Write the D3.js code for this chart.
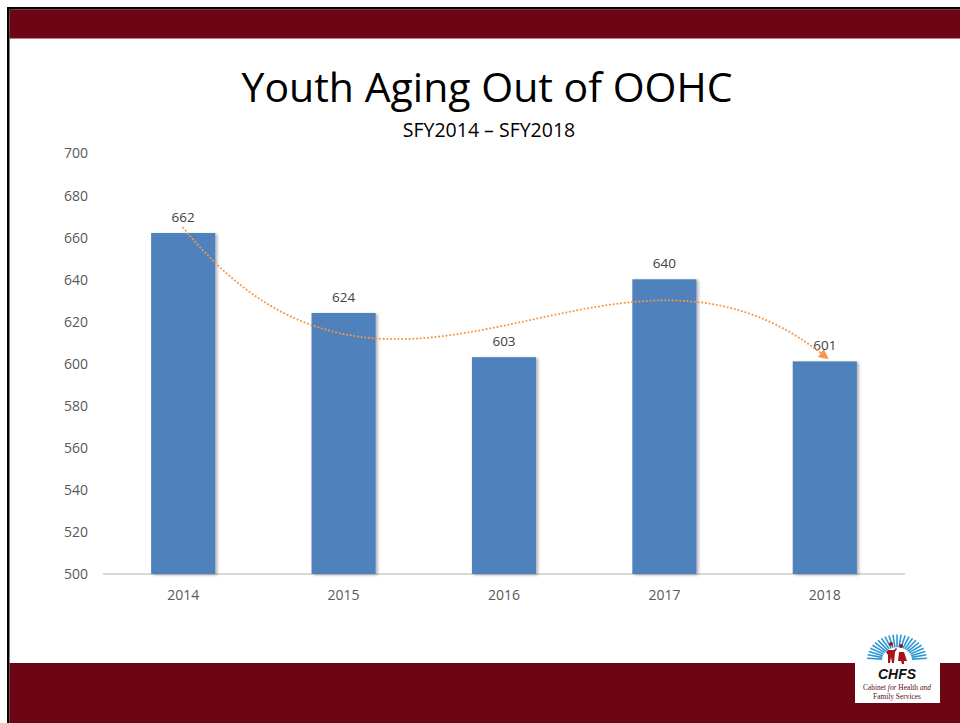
<!DOCTYPE html>
<html>
<head>
<meta charset="utf-8">
<script src="https://cdn.jsdelivr.net/npm/d3@7"></script>
<style>
  html, body { margin: 0; padding: 0; background: #fff; }
  svg { display: block; }
</style>
</head>
<body>
<svg id="slide" width="960" height="723"></svg>
<script>
// Youth aging out of out-of-home care, state fiscal years 2014-2018
const years = ["2014", "2015", "2016", "2017", "2018"];
const counts = [662, 624, 603, 640, 601];
const yTicks = [500, 520, 540, 560, 580, 600, 620, 640, 660, 680, 700];

const title = "Youth Aging Out of OOHC";
const subtitle = "SFY2014 \u2013 SFY2018";

const svg = d3.select("#slide");
const maroon = "#6c0612";

// slide frame: black rule on top and left, maroon header and footer bands
svg.append("rect").attr("x", 7).attr("y", 7).attr("width", 953).attr("height", 2.5).attr("fill", "#000");
svg.append("rect").attr("x", 7).attr("y", 7).attr("width", 2.5).attr("height", 716).attr("fill", "#000");
svg.append("rect").attr("x", 9.5).attr("y", 9.5).attr("width", 951).attr("height", 29).attr("fill", maroon);
svg.append("rect").attr("x", 9.5).attr("y", 663).attr("width", 951).attr("height", 60).attr("fill", maroon);

// titles
svg.append("text").attr("x", 487).attr("y", 102).attr("text-anchor", "middle")
  .attr("font-family", "'Open Sans', sans-serif").attr("font-size", 41).attr("fill", "#000")
  .text(title);
svg.append("text").attr("x", 489).attr("y", 137).attr("text-anchor", "middle")
  .attr("font-family", "'Open Sans', sans-serif").attr("font-size", 19.5).attr("fill", "#000")
  .text(subtitle);

// scales
const x = d3.scaleBand().domain(years).range([103, 905]).paddingInner(0.6).paddingOuter(0.3);
const y = d3.scaleLinear().domain([500, 700]).range([574, 153]);

const defs = svg.append("defs");
const shadow = defs.append("filter").attr("id", "barShadow")
  .attr("x", "-20%").attr("y", "-5%").attr("width", "150%").attr("height", "115%");
shadow.append("feDropShadow").attr("dx", 2).attr("dy", 1).attr("stdDeviation", 1.4)
  .attr("flood-color", "#000").attr("flood-opacity", 0.3);

defs.append("marker").attr("id", "trendArrow")
  .attr("viewBox", "0 0 10 10").attr("refX", 5).attr("refY", 5)
  .attr("markerWidth", 5).attr("markerHeight", 5).attr("orient", "auto")
  .attr("markerUnits", "strokeWidth")
  .append("path").attr("d", "M0,0 L10,5 L0,10 Z").attr("fill", "#f79646");

// value axis labels
const yAxis = d3.axisLeft(y).tickValues(yTicks).tickSize(0).tickPadding(0);
const yg = svg.append("g").attr("transform", "translate(88,0)").call(yAxis);
yg.select(".domain").remove();
yg.selectAll("text").attr("font-family", "'Open Sans', sans-serif").attr("font-size", 14)
  .attr("fill", "#595959").attr("dy", "0.35em");

// baseline
svg.append("line").attr("x1", 103).attr("x2", 905).attr("y1", y(500)).attr("y2", y(500))
  .attr("stroke", "#d9d9d9").attr("stroke-width", 2);

// category axis labels
const xAxis = d3.axisBottom(x).tickSize(0).tickPadding(0);
const xg = svg.append("g").attr("transform", `translate(0,${y(500) + 21})`).call(xAxis);
xg.select(".domain").remove();
xg.selectAll("text").attr("font-family", "'Open Sans', sans-serif").attr("font-size", 14)
  .attr("fill", "#595959").attr("dy", "0.35em");

// bars
svg.append("g").selectAll("rect").data(years).join("rect")
  .attr("x", d => x(d))
  .attr("width", x.bandwidth())
  .attr("y", (d, i) => y(counts[i]))
  .attr("height", (d, i) => y(500) - y(counts[i]))
  .attr("fill", "#4f81bd")
  .attr("filter", "url(#barShadow)");

// value labels
svg.append("g").selectAll("text").data(years).join("text")
  .attr("x", d => x(d) + x.bandwidth() / 2)
  .attr("y", (d, i) => y(counts[i]) - 11)
  .attr("text-anchor", "middle")
  .attr("font-family", "'Open Sans', sans-serif").attr("font-size", 13.5)
  .attr("fill", "#404040")
  .text((d, i) => counts[i]);

// third-order polynomial trend line, least-squares fit on the series
function polyFit(xs, ys, order) {
  const n = order + 1;
  const A = Array.from({length: n}, () => new Array(n + 1).fill(0));
  for (let r = 0; r < n; r++) {
    for (let c = 0; c < n; c++) A[r][c] = d3.sum(xs, v => Math.pow(v, r + c));
    A[r][n] = d3.sum(xs, (v, k) => Math.pow(v, r) * ys[k]);
  }
  for (let p = 0; p < n; p++) {
    let best = p;
    for (let r = p + 1; r < n; r++) if (Math.abs(A[r][p]) > Math.abs(A[best][p])) best = r;
    [A[p], A[best]] = [A[best], A[p]];
    for (let r = 0; r < n; r++) {
      if (r === p) continue;
      const f = A[r][p] / A[p][p];
      for (let c = p; c <= n; c++) A[r][c] -= f * A[p][c];
    }
  }
  return A.map((row, i) => row[n] / row[i]);
}
const idx = years.map((d, i) => i + 1);
const coef = polyFit(idx, counts, 3);
const trendAt = t => coef.reduce((s, c, k) => s + c * Math.pow(t, k), 0);
const step = x.step();
const xAt = t => x(years[0]) + x.bandwidth() / 2 + (t - 1) * step;
const samples = d3.range(1, 5.0001, 0.05);
svg.append("path")
  .attr("d", d3.line().x(t => xAt(t)).y(t => y(trendAt(t))).curve(d3.curveMonotoneX)(samples))
  .attr("fill", "none").attr("stroke", "#f79646").attr("stroke-width", 2)
  .attr("stroke-linecap", "round").attr("stroke-dasharray", "0.1 3.6")
  .attr("marker-end", "url(#trendArrow)");

// CHFS logo in the footer
const logo = svg.append("g");
logo.append("rect").attr("x", 855).attr("y", 660).attr("width", 85).attr("height", 43).attr("fill", "#fff");
const cx = 897, cy = 660;
d3.range(0, 23).forEach(k => {
  const a = Math.PI + (k + 0.5) * Math.PI / 23;
  logo.append("line")
    .attr("x1", cx + 15 * Math.cos(a)).attr("y1", cy + 15 * Math.sin(a) * 0.85)
    .attr("x2", cx + 30 * Math.cos(a)).attr("y2", cy + 30 * Math.sin(a) * 0.85)
    .attr("stroke", "#2a97d4").attr("stroke-width", 1.6);
});
// family figures
logo.append("path")
  .attr("d", "M891,646 a2,2 0 1,1 0.1,0 Z M888,650 L894,650 L896,648 L897,649 L895,652 L894,663 L892,663 L891,657 L890,663 L888,663 L888,655 L886,652 Z")
  .attr("fill", "#a4161a");
logo.append("path")
  .attr("d", "M901,648 a2,2 0 1,1 0.1,0 Z M899,652 L904,652 L907,661 L904,661 L904,664 L902,664 L901,661 L898,661 Z")
  .attr("fill", "#a4161a");
logo.append("text").attr("x", 897).attr("y", 679).attr("text-anchor", "middle")
  .attr("font-family", "'Liberation Sans', Arial, sans-serif").attr("font-weight", "bold")
  .attr("font-style", "italic").attr("font-size", 14).attr("fill", "#111").text("CHFS");
const tag = logo.append("text").attr("x", 897).attr("y", 690).attr("text-anchor", "middle")
  .attr("font-family", "'Liberation Serif', 'DejaVu Serif', serif").attr("font-size", 7.4).attr("fill", "#5a1020");
tag.append("tspan").text("Cabinet ");
tag.append("tspan").attr("font-style", "italic").text("for");
tag.append("tspan").text(" Health ");
tag.append("tspan").attr("font-style", "italic").text("and");
logo.append("text").attr("x", 897).attr("y", 699).attr("text-anchor", "middle")
  .attr("font-family", "'Liberation Serif', 'DejaVu Serif', serif").attr("font-size", 7.4).attr("fill", "#5a1020")
  .text("Family Services");
</script>
</body>
</html>
